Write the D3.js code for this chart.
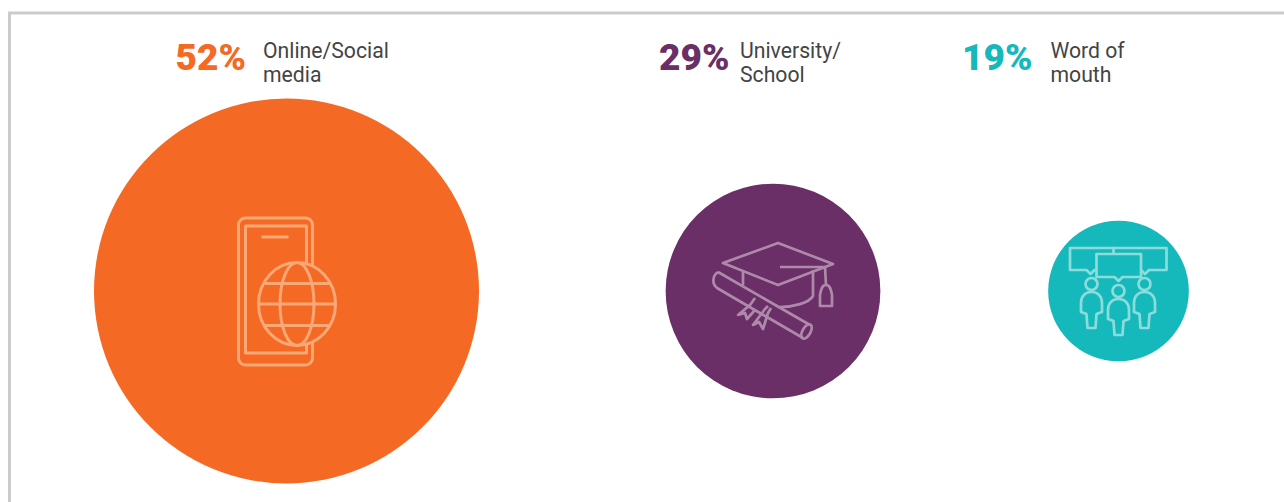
<!DOCTYPE html>
<html>
<head>
<meta charset="utf-8">
<script src="https://cdn.jsdelivr.net/npm/d3@7"></script>
<style>
html,body{margin:0;padding:0;background:#fff;overflow:hidden}
svg{display:block}
text{font-family:Roboto,sans-serif}
</style>
</head>
<body>
<svg id="chart" width="1284" height="502"></svg>
<script>
// Where people heard about the programme, as shares of respondents
const channels = ["online", "university", "word"];
const shares = [52, 29, 19];
const shareLabels = ["52%", "29%", "19%"];
const labelLines = [["Online/Social", "media"], ["University/", "School"], ["Word of", "mouth"]];
const fills = ["#f46a25", "#692f66", "#16b9bb"];
const iconInk = ["#fba877", "#ae89aa", "#8ddcdc"];

const centreX = d3.scaleOrdinal().domain(channels).range([286.5, 773, 1118.5]);
const radius = d3.scaleLinear().domain([0, 52]).range([0, 192.5]);
const centreY = 291;

const pctX = d3.scaleOrdinal().domain(channels).range([175.5, 659, 962]);
const captionX = d3.scaleOrdinal().domain(channels).range([263, 740, 1050.5]);

const svg = d3.select("#chart");

// Frame open on the right and bottom
svg.append("path")
  .attr("d", d3.line()([[9.5, 502], [9.5, 13], [1284, 13]]))
  .attr("fill", "none").attr("stroke", "#cbcbcb").attr("stroke-width", 3);

const groups = svg.selectAll("g.channel")
  .data(channels.map((id, i) => ({id, i, share: shares[i]})))
  .join("g").attr("class", "channel");

groups.append("circle")
  .attr("cx", d => centreX(d.id))
  .attr("cy", centreY)
  .attr("r", d => radius(d.share))
  .attr("fill", d => fills[d.i]);

groups.append("text")
  .attr("x", d => pctX(d.id))
  .attr("y", 70)
  .attr("font-size", 37)
  .attr("font-weight", 900)
  .attr("fill", d => fills[d.i])
  .text(d => shareLabels[d.i]);

groups.each(function(d) {
  d3.select(this).selectAll("text.caption")
    .data(labelLines[d.i])
    .join("text").attr("class", "caption")
    .attr("x", captionX(d.id))
    .attr("y", (_, k) => 57.5 + k * 24.5)
    .attr("font-size", 21.2)
    .attr("fill", "#444444")
    .text(t => t);
});

// Line icons, each drawn in its circle's own coordinate system
const icons = {
  online(g) {
    g.append("rect").attr("x", -48).attr("y", -73).attr("width", 74).attr("height", 147).attr("rx", 7);
    g.append("rect").attr("x", -41).attr("y", -65).attr("width", 61).attr("height", 127);
    g.append("path").attr("d", "M-25,-54H2");
    const globe = g.append("g").attr("transform", "translate(10.5,13)");
    globe.append("ellipse").attr("rx", 38.5).attr("ry", 41.5).attr("fill", fills[0]);
    globe.append("ellipse").attr("rx", 17).attr("ry", 41.5);
    globe.append("path").attr("d", "M-38,0H38M-32,-20.5H32M-32,21.5H32");
  },
  university(g) {
    g.append("path").attr("d", "M5,-48L60,-27L5,-6L-50,-28Z");
    g.append("path").attr("d", "M7,-24H52L53,-6");
    g.append("path").attr("d", "M53,-6C49,-6 48,-2 47,4V15H59V4C58,-2 57,-6 53,-6Z");
    g.append("path").attr("d", "M-30,-19V-6");
    g.append("path").attr("d", "M40,-21V5C36,12 20,16 7,16");
    g.append("path").attr("d", "M-55,-19L37,34M-56,-3L30,47M-55,-19C-61,-15 -61,-7 -56,-3");
    g.append("ellipse").attr("transform", "translate(33.5,40.5) rotate(30)").attr("rx", 4).attr("ry", 8);
    g.append("path").attr("d", "M-18,7L-23,14L-35,24L-28,22L-26,28L-18,19");
    g.append("path").attr("d", "M-5,15L-8,18L-20,34L-14,31L-10,38L-5,22L-2,17");
  },
  word(g) {
    const bubble = (x0, x1, y0, y1, tip) => {
      g.append("path").attr("fill", fills[2])
        .attr("d", `M${x0},${y0}H${x1}V${y1}H${tip + 4}L${tip},${y1 + 4}L${tip - 4},${y1}H${x0}Z`);
    };
    bubble(-48.5, -4, -43, -21, -28);
    bubble(-5, 48, -43, -21, 26.5);
    bubble(-22, 22.5, -37, -14, 0);
    const person = (x, y) => {
      g.append("circle").attr("cx", x).attr("cy", y).attr("r", 6);
      g.append("path").attr("d",
        `M${x - 5},${y + 30}L${x - 4},${y + 44}H${x + 4}L${x + 5},${y + 30}` +
        `L${x + 10.5},${y + 28}V${y + 19}C${x + 10.5},${y + 12} ${x + 6},${y + 8} ${x},${y + 8}` +
        `C${x - 6},${y + 8} ${x - 10.5},${y + 12} ${x - 10.5},${y + 19}V${y + 28}Z`);
    };
    person(-27, -7);
    person(0, 0);
    person(26, -7);
  }
};

groups.append("g")
  .attr("transform", d => `translate(${centreX(d.id)},${centreY})`)
  .attr("fill", "none")
  .attr("stroke", d => iconInk[d.i])
  .attr("stroke-width", d => d.i === 0 ? 3 : 2.7)
  .attr("stroke-linejoin", "round")
  .each(function(d) { icons[d.id](d3.select(this)); });
</script>
</body>
</html>
